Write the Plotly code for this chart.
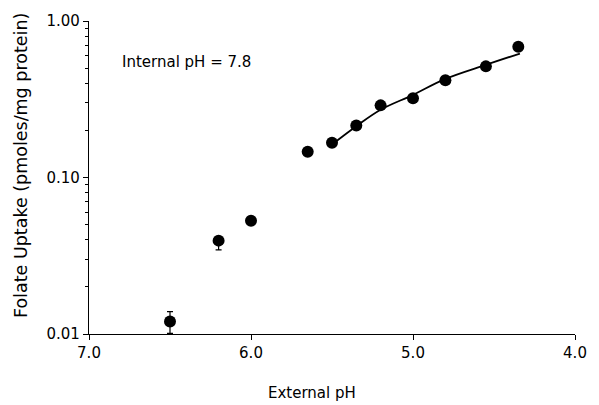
import plotly.graph_objects as go

ext_ph = [6.5, 6.2, 6.0, 5.65, 5.5, 5.35, 5.2, 5.0, 4.8, 4.55, 4.35]
uptake = [0.0120, 0.0395, 0.053, 0.146, 0.167, 0.215, 0.289, 0.321, 0.418, 0.513, 0.684]
err_plus = [0.0019, 0.0, 0, 0, 0, 0, 0, 0, 0, 0, 0]
err_minus = [0.0019, 0.005, 0, 0, 0, 0, 0, 0, 0, 0, 0]

fit_ph = [5.5, 5.35, 5.2, 5.0, 4.8, 4.55, 4.34]
fit_val = [0.1626, 0.2128, 0.2710, 0.3373, 0.4266, 0.5248, 0.6194]

x_ticks = [7.0, 6.0, 5.0, 4.0]
x_tick_text = ["7.0", "6.0", "5.0", "4.0"]
y_ticks = [0.01, 0.1, 1.0]
y_tick_text = ["0.01", "0.10", "1.00"]
y_minor = [0.02, 0.03, 0.04, 0.05, 0.06, 0.07, 0.08, 0.09,
           0.2, 0.3, 0.4, 0.5, 0.6, 0.7, 0.8, 0.9]

font = "DejaVu Sans, sans-serif"
tf = dict(family=font, size=15, color="black")

fig = go.Figure()
fig.add_trace(go.Scatter(
    x=fit_ph, y=fit_val, mode="lines",
    line=dict(color="black", width=1.8, shape="spline", smoothing=1.0),
    showlegend=False, hoverinfo="skip"))
fig.add_trace(go.Scatter(
    x=ext_ph, y=uptake, mode="markers",
    marker=dict(color="black", size=12),
    error_y=dict(type="data", array=err_plus, arrayminus=err_minus,
                 color="black", thickness=1.2, width=3),
    showlegend=False))

fig.add_annotation(text="Internal pH = 7.8", xref="paper", yref="paper",
                   x=0.063, y=0.87, xanchor="left", yanchor="middle",
                   showarrow=False, font=tf)
fig.add_annotation(text="External pH", xref="paper", yref="paper",
                   x=0.4595, y=-0.187, xanchor="center", yanchor="middle",
                   showarrow=False, font=tf)
fig.add_annotation(text="Folate Uptake (pmoles/mg protein)", xref="paper", yref="paper",
                   x=-0.1397, y=0.537, xanchor="center", yanchor="middle",
                   textangle=-90, showarrow=False,
                   font=dict(family=font, size=17.5, color="black"))

fig.update_xaxes(range=[7.0, 4.0], tickvals=x_ticks, ticktext=x_tick_text,
                 showline=True, linecolor="black", linewidth=1.2,
                 ticks="outside", ticklen=5, tickcolor="black",
                 showgrid=False, zeroline=False, tickfont=tf)
fig.update_yaxes(type="log", range=[-2, 0], tickvals=y_ticks, ticktext=y_tick_text,
                 showline=True, linecolor="black", linewidth=1.2,
                 ticks="outside", ticklen=5, tickcolor="black",
                 minor=dict(ticks="outside", ticklen=3, tickcolor="black",
                            tickvals=y_minor),
                 showgrid=False, zeroline=False, tickfont=tf)

fig.update_layout(width=599, height=405, margin=dict(l=89, r=16, t=19, b=71),
                  plot_bgcolor="white", paper_bgcolor="white")

fig.write_html("out.html")
